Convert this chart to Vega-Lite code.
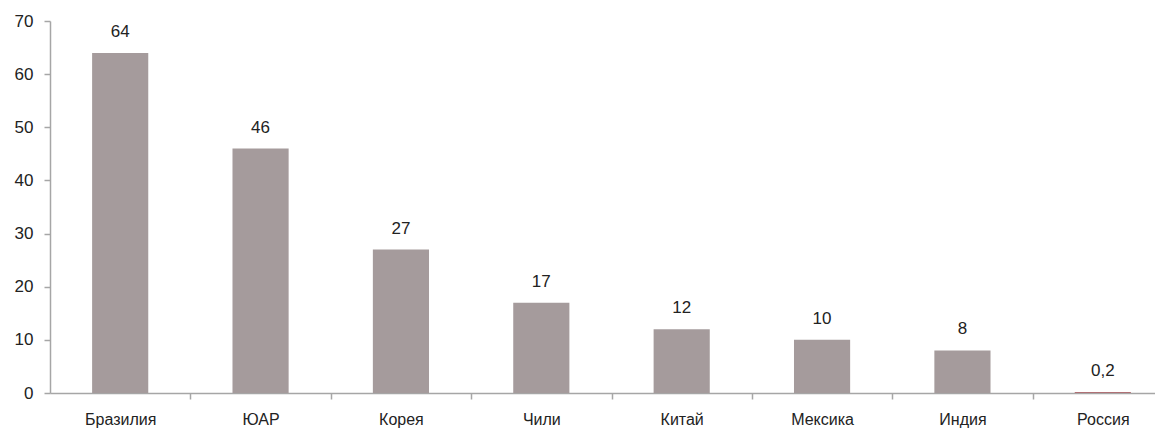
{
  "$schema": "https://vega.github.io/schema/vega-lite/v6.json",
  "width": 1105,
  "height": 372,
  "autosize": {"type": "none"},
  "padding": {"left": 50, "top": 21, "right": 0, "bottom": 39},
  "background": "white",
  "data": {"values": [
    {"country": "Бразилия", "value": 64, "label": "64"},
    {"country": "ЮАР", "value": 46, "label": "46"},
    {"country": "Корея", "value": 27, "label": "27"},
    {"country": "Чили", "value": 17, "label": "17"},
    {"country": "Китай", "value": 12, "label": "12"},
    {"country": "Мексика", "value": 10, "label": "10"},
    {"country": "Индия", "value": 8, "label": "8"},
    {"country": "Россия", "value": 0.2, "label": "0,2"}
  ]},
  "encoding": {
    "x": {
      "field": "country", "type": "nominal", "sort": null,
      "scale": {"range": [0, 1123], "paddingInner": 0.6, "paddingOuter": 0.3},
      "axis": {
        "title": null, "labelAngle": 0, "tickOffset": 70.2, "labelOffset": -70.2,
        "domainColor": "#a6a6a6", "domainWidth": 1.5, "tickColor": "#a6a6a6", "tickWidth": 1.5, "tickSize": 6,
        "labelFont": "Liberation Sans", "labelFontSize": 16, "labelColor": "#222222", "labelPadding": 12
      }
    },
    "y": {
      "field": "value", "type": "quantitative",
      "scale": {"domain": [0, 70], "nice": false},
      "axis": {
        "title": null, "values": [0, 10, 20, 30, 40, 50, 60, 70], "grid": false,
        "domainColor": "#a6a6a6", "domainWidth": 1.5, "tickColor": "#a6a6a6", "tickWidth": 1.5, "tickSize": 6,
        "labelFont": "Liberation Sans", "labelFontSize": 17, "labelColor": "#222222", "labelPadding": 11
      }
    }
  },
  "layer": [
    {
      "mark": {"type": "bar"},
      "encoding": {
        "color": {
          "condition": {"test": "datum.country === 'Россия'", "value": "#b07075"},
          "value": "#a59b9c"
        }
      }
    },
    {
      "mark": {"type": "text", "baseline": "bottom", "dy": -12, "font": "Liberation Sans", "fontSize": 17, "color": "#222222"},
      "encoding": {"text": {"field": "label"}}
    }
  ],
  "config": {"view": {"stroke": null}}
}
